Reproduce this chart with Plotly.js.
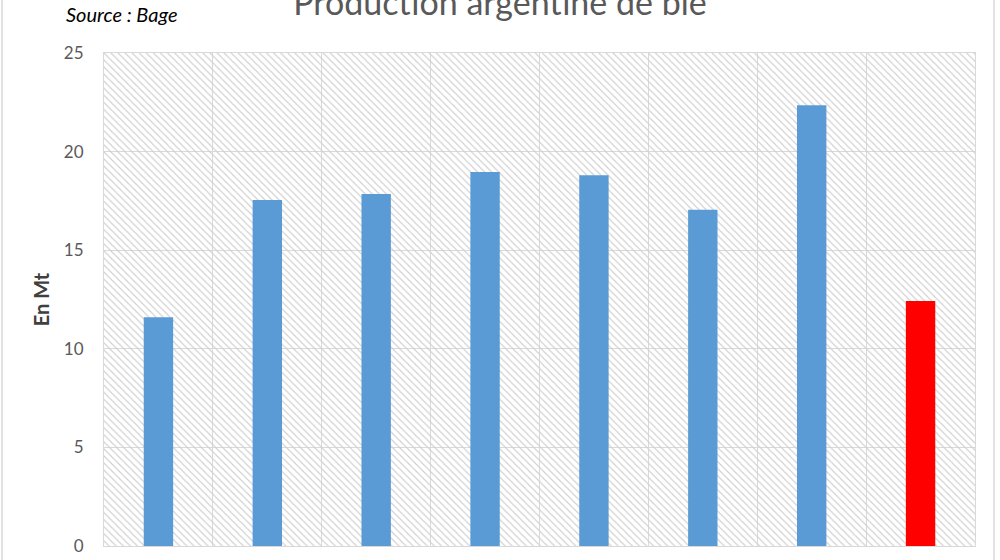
<!DOCTYPE html>
<html>
<head>
<meta charset="utf-8">
<script src="https://cdn.plot.ly/plotly-3.0.1.min.js"></script>
<style>html,body{margin:0;padding:0;background:#fff;}#chart{width:1000px;height:560px;}</style>
</head>
<body>
<div id="chart"></div>
<script>
// Data
const campaigns = ["2015/16", "2016/17", "2017/18", "2018/19", "2019/20", "2020/21", "2021/22", "2022/23"];
const productionMt = [11.6, 17.55, 17.85, 18.97, 18.8, 17.05, 22.35, 12.42];
const barColors = ["#5b9bd5", "#5b9bd5", "#5b9bd5", "#5b9bd5", "#5b9bd5", "#5b9bd5", "#5b9bd5", "#ff0000"];
const yMax = 25;
const yTicks = [0, 5, 10, 15, 20, 25];

const hatch = {
  type: 'bar',
  x: campaigns,
  y: campaigns.map(() => yMax),
  width: 1,
  marker: {
    color: 'rgba(0,0,0,0)',
    line: {width: 0},
    pattern: {shape: '\\', fgcolor: '#cfcfcf', bgcolor: 'rgba(0,0,0,0)', size: 5, solidity: 0.22, fillmode: 'replace'}
  },
  hoverinfo: 'skip',
  showlegend: false
};

const bars = {
  type: 'bar',
  x: campaigns,
  y: productionMt,
  width: 0.27,
  marker: {color: barColors, line: {width: 0}},
  showlegend: false
};

const layout = {
  width: 1000, height: 560,
  margin: {l: 104, r: 25, t: 53, b: 14},
  paper_bgcolor: '#ffffff',
  plot_bgcolor: '#ffffff',
  barmode: 'overlay',
  font: {family: 'Lato, "Open Sans", sans-serif', color: '#595959'},
  title: {
    text: 'Production argentine de blé',
    font: {family: 'Lato, sans-serif', size: 34, color: '#595959'},
    x: 0.5, xanchor: 'center',
    y: 0.9938, yref: 'container', yanchor: 'middle'
  },
  xaxis: {
    type: 'category',
    tickson: 'boundaries',
    showgrid: true, gridcolor: '#d9d9d9', gridwidth: 1,
    showline: true, linecolor: '#d9d9d9', linewidth: 1, mirror: true,
    showticklabels: false, ticks: '',
    range: [-0.5, campaigns.length - 0.5],
    fixedrange: true
  },
  yaxis: {
    range: [0, yMax],
    tickvals: yTicks,
    showgrid: true, gridcolor: '#d9d9d9', gridwidth: 1,
    showline: true, linecolor: '#d9d9d9', linewidth: 1, mirror: true,
    zeroline: false,
    ticks: '',
    ticklabelstandoff: 16,
    tickfont: {family: 'Lato, sans-serif', size: 17, color: '#595959'},
    title: {text: '<b>En Mt</b>', standoff: 8, font: {family: 'Lato, sans-serif', size: 20, color: '#404040'}},
    fixedrange: true
  },
  annotations: [{
    text: '<i>Source : Bage</i>',
    xref: 'paper', yref: 'paper',
    x: -0.0459, xanchor: 'left',
    y: 1.079, yanchor: 'middle',
    showarrow: false,
    font: {family: 'Lato, sans-serif', size: 20, color: '#000000'}
  }],
  shapes: [{
    type: 'rect', xref: 'paper', yref: 'paper',
    x0: -0.1171, x1: 1.0218, y0: -0.2, y1: 1.3,
    line: {color: '#d9d9d9', width: 1.5},
    fillcolor: 'rgba(0,0,0,0)',
    layer: 'below'
  }]
};

Plotly.newPlot('chart', [hatch, bars], layout, {displayModeBar: false, staticPlot: true});
</script>
</body>
</html>
